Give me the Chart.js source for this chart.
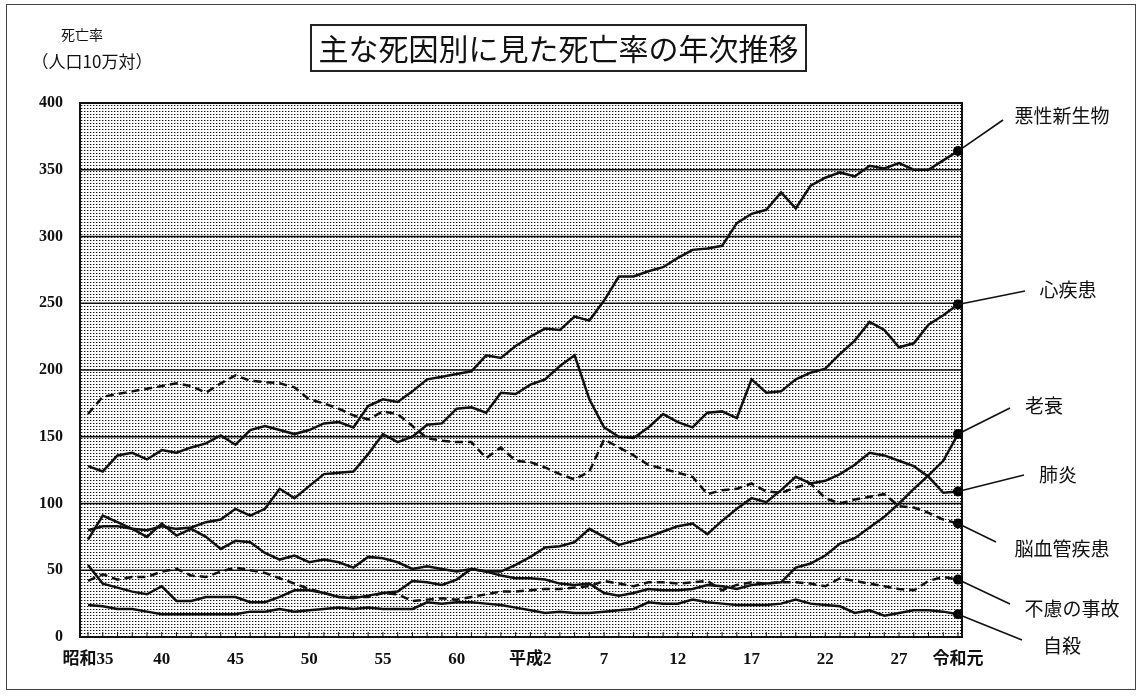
<!DOCTYPE html>
<html lang="ja">
<head>
<meta charset="UTF-8">
<title>主な死因別に見た死亡率の年次推移</title>
<script src="https://cdn.jsdelivr.net/npm/chart.js@4.4.1/dist/chart.umd.min.js"></script>
<style>
  html, body { margin: 0; padding: 0; background: #fff; }
  #wrap { position: relative; width: 1144px; height: 697px; overflow: hidden; }
  #frame { position: absolute; left: 6px; top: 4px; width: 1130px; height: 686px; border: 1px solid #444; box-sizing: border-box; }
  #title { position: absolute; left: 310px; top: 24px; width: 497px; height: 48px; border: 2px solid #222; box-sizing: border-box;
           font: 30px "Noto Sans CJK JP", sans-serif; color: #111; text-align: center; line-height: 43px; }
  .txt { position: absolute; font-family: "Noto Sans CJK JP", sans-serif; color: #111; white-space: nowrap; transform: translate(-50%, -50%); }
  canvas { position: absolute; left: 0; top: 0; }
</style>
</head>
<body>
<div id="wrap">
  <div id="frame"></div>
  <canvas id="chart" width="1144" height="697"></canvas>
  <div id="title">主な死因別に見た死亡率の年次推移</div>
  <div class="txt" style="left:82px; top:34px; font-size:14px;">死亡率</div>
  <div class="txt" style="left:92px; top:60px; font-size:17px;">（人口10万対）</div>
  <div id="labels"></div>
</div>
<script>
// years 昭和35 (1960) .. 令和元 (2019)
const years = [1960, 1961, 1962, 1963, 1964, 1965, 1966, 1967, 1968, 1969,
               1970, 1971, 1972, 1973, 1974, 1975, 1976, 1977, 1978, 1979,
               1980, 1981, 1982, 1983, 1984, 1985, 1986, 1987, 1988, 1989,
               1990, 1991, 1992, 1993, 1994, 1995, 1996, 1997, 1998, 1999,
               2000, 2001, 2002, 2003, 2004, 2005, 2006, 2007, 2008, 2009,
               2010, 2011, 2012, 2013, 2014, 2015, 2016, 2017, 2018, 2019];

const tickYears = [1960, 1965, 1970, 1975, 1980, 1985, 1990, 1995, 2000, 2005, 2010, 2015, 2019];
const tickLabels = ['昭和35', '40', '45', '50', '55', '60', '平成2', '7', '12', '17', '22', '27', '令和元'];

// 悪性新生物
const cancer = [128, 124, 136, 138, 133, 140, 138, 142, 145, 151,
                144, 155, 158, 155, 152, 155, 160, 161, 157, 173,
                178, 176, 184, 193, 195, 197, 199, 211, 209, 218,
                225, 231, 230, 240, 237, 252, 270, 270, 274, 277,
                284, 290, 291, 293, 310, 317, 320, 333, 321, 338,
                344, 348, 345, 353, 351, 355, 350, 350, 357, 364];
// 心疾患
const heart = [80, 83, 83, 81, 80, 83, 81, 82, 86, 88,
               96, 91, 96, 111, 104, 113, 122, 123, 124, 137,
               152, 146, 150, 159, 160, 171, 172, 168, 183, 182,
               189, 193, 203, 211, 178, 157, 150, 149, 157, 167,
               161, 157, 168, 169, 164, 193, 183, 184, 193, 198,
               201, 212, 222, 236, 230, 217, 220, 234, 241, 249];
// 老衰
const senility = [73, 91, 86, 81, 75, 85, 76, 81, 75, 66,
                  72, 71, 63, 58, 61, 56, 58, 56, 52, 60,
                  59, 56, 51, 53, 51, 49, 51, 49, 46, 44,
                  44, 43, 40, 39, 40, 33, 31, 33, 36, 35,
                  35, 36, 39, 38, 36, 39, 40, 41, 52, 55,
                  61, 70, 74, 82, 90, 100, 111, 121, 132, 152];
// 肺炎
const pneumonia = [54, 40, 37, 34, 32, 38, 27, 27, 30, 30,
                   30, 26, 26, 30, 35, 35, 33, 30, 29, 31,
                   33, 34, 42, 41, 39, 43, 51, 49, 49, 54,
                   60, 67, 68, 71, 81, 75, 69, 72, 75, 79,
                   83, 85, 77, 87, 96, 104, 101, 110, 120, 115,
                   117, 122, 129, 138, 136, 132, 128, 120, 108, 109];
// 脳血管疾患
const cerebro = [167, 180, 182, 184, 186, 188, 190, 188, 183, 190,
                 196, 192, 191, 190, 187, 178, 175, 171, 166, 163,
                 169, 167, 158, 149, 147, 146, 146, 134, 142, 132,
                 131, 127, 122, 118, 124, 148, 142, 136, 129, 126,
                 123, 120, 107, 110, 111, 115, 109, 108, 112, 115,
                 104, 100, 103, 105, 107, 98, 97, 93, 88, 85];
// 不慮の事故
const accident = [42, 47, 43, 45, 45, 49, 51, 46, 45, 49,
                  52, 50, 48, 44, 40, 36, 33, 30, 30, 30,
                  33, 32, 27, 28, 29, 28, 30, 32, 34, 34,
                  35, 36, 36, 37, 38, 42, 40, 38, 41, 41,
                  40, 41, 42, 35, 39, 41, 40, 41, 41, 40,
                  38, 44, 42, 40, 38, 36, 35, 42, 45, 43];
// 自殺
const suicide = [24, 23, 21, 21, 19, 17, 17, 17, 17, 17,
                 17, 19, 19, 21, 19, 20, 21, 22, 21, 22,
                 21, 21, 21, 26, 25, 26, 26, 25, 24, 22,
                 20, 18, 19, 18, 18, 19, 20, 21, 26, 25,
                 25, 28, 26, 25, 24, 24, 24, 25, 28, 25,
                 24, 23, 18, 20, 16, 18, 20, 20, 19, 17];

// name, values, dash, label text centre, leader line end
const series = [
  { name: '悪性新生物', data: cancer,    dash: [],     lx: 1062, ly: 114, ex: 1003, ey: 120 },
  { name: '心疾患',     data: heart,     dash: [],     lx: 1068, ly: 288, ex: 1025, ey: 291 },
  { name: '老衰',       data: senility,  dash: [],     lx: 1044, ly: 404, ex: 1010, ey: 408 },
  { name: '肺炎',       data: pneumonia, dash: [],     lx: 1058, ly: 473, ex: 1024, ey: 475 },
  { name: '脳血管疾患', data: cerebro,   dash: [8, 5], lx: 1062, ly: 547, ex: 996,  ey: 542 },
  { name: '不慮の事故', data: accident,  dash: [8, 5], lx: 1072, ly: 607, ex: 1010, ey: 604 },
  { name: '自殺',       data: suicide,   dash: [],     lx: 1062, ly: 644, ex: 1022, ey: 640 }
];

const lastIdx = years.length - 1;

function dotPattern(ctx) {
  const c = document.createElement('canvas');
  c.width = 3; c.height = 3;
  const g = c.getContext('2d');
  g.fillStyle = '#fff'; g.fillRect(0, 0, 3, 3);
  g.fillStyle = '#111'; g.fillRect(0, 0, 1, 1);
  g.fillStyle = '#aaa'; g.fillRect(1, 0, 1, 1);
  return ctx.createPattern(c, 'repeat');
}

const framePlugin = {
  id: 'frame',
  beforeDatasetsDraw(chart) {
    const { ctx, chartArea: a, scales: { x, y } } = chart;
    const L = a.left - 8, R = a.right + 4, T = a.top, B = a.bottom;
    ctx.save();
    ctx.fillStyle = dotPattern(ctx);
    ctx.fillRect(L, T, R - L, B - T);
    // horizontal grid lines
    ctx.strokeStyle = '#111';
    ctx.lineWidth = 1.7;
    y.ticks.forEach(t => {
      const py = y.getPixelForValue(t.value);
      ctx.beginPath(); ctx.moveTo(L, py); ctx.lineTo(R, py); ctx.stroke();
    });
    // small year ticks along the bottom
    ctx.lineWidth = 1;
    years.forEach((yr, i) => {
      const px = x.getPixelForValue(i);
      ctx.beginPath(); ctx.moveTo(px, B); ctx.lineTo(px, B - 5); ctx.stroke();
    });
    ctx.lineWidth = 2;
    ctx.strokeRect(L, T, R - L, B - T);
    ctx.restore();
  },
  afterDatasetsDraw(chart) {
    const { ctx, scales: { x, y } } = chart;
    ctx.save();
    ctx.strokeStyle = '#111';
    ctx.lineWidth = 1.6;
    series.forEach(s => {
      const px = x.getPixelForValue(lastIdx);
      const py = y.getPixelForValue(s.data[lastIdx]);
      ctx.beginPath(); ctx.moveTo(px, py); ctx.lineTo(s.ex, s.ey); ctx.stroke();
    });
    ctx.restore();
  }
};

// series names on the right
const box = document.getElementById('labels');
series.forEach(s => {
  const d = document.createElement('div');
  d.className = 'txt';
  d.style.left = s.lx + 'px';
  d.style.top = s.ly + 'px';
  d.style.fontSize = '19px';
  d.textContent = s.name;
  box.appendChild(d);
});

const yFont = { family: '"Liberation Serif", "Noto Sans CJK JP", serif', size: 16, weight: 'bold' };
const xFont = { family: '"Liberation Serif", "Noto Sans CJK JP", serif', size: 17, weight: 'bold' };

new Chart(document.getElementById('chart').getContext('2d'), {
  type: 'line',
  data: {
    labels: years,
    datasets: series.map(s => ({
      label: s.name,
      data: s.data,
      borderColor: '#111',
      borderWidth: 2.5,
      borderDash: s.dash,
      tension: 0,
      fill: false,
      pointRadius: ctx => ctx.dataIndex === lastIdx ? 5 : 0,
      pointBackgroundColor: '#000',
      pointBorderWidth: 0
    }))
  },
  options: {
    responsive: false,
    animation: false,
    devicePixelRatio: 1,
    layout: { padding: { top: 103, right: 186, bottom: 0, left: 0 } },
    plugins: { legend: { display: false }, tooltip: { enabled: false } },
    scales: {
      x: {
        type: 'category',
        offset: false,
        grid: { display: false, drawTicks: false },
        border: { display: false },
        ticks: {
          autoSkip: false,
          maxRotation: 0,
          padding: 12,
          color: '#111',
          font: xFont,
          callback: (v, i) => {
            const k = tickYears.indexOf(years[i]);
            return k < 0 ? '' : tickLabels[k];
          }
        },
        afterFit: s => { s.height = 60; }
      },
      y: {
        min: 0,
        max: 400,
        grid: { display: false, drawTicks: false },
        border: { display: false },
        ticks: { stepSize: 50, padding: 25, color: '#111', font: yFont },
        afterFit: s => { s.width = 88; }
      }
    }
  },
  plugins: [framePlugin]
});
</script>
</body>
</html>
